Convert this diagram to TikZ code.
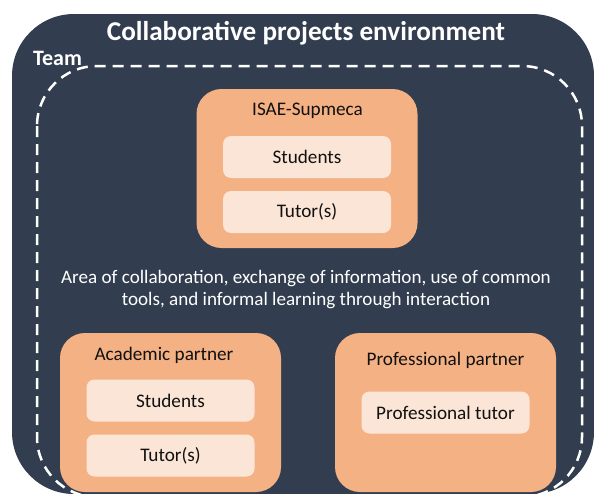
\documentclass[tikz,border=0pt]{standalone}
\usepackage{fontspec}
\setmainfont{Carlito}
\usetikzlibrary{positioning}
\definecolor{envdark}{HTML}{323E4F}
\definecolor{partpeach}{HTML}{F4B183}
\definecolor{rolelight}{HTML}{FBE5D6}
\definecolor{roletext}{HTML}{111111}

\begin{document}
\begin{tikzpicture}[x=1pt, y=-1pt,
    partner/.style={fill=partpeach, rounded corners=25pt, inner sep=0pt,
                    minimum width=221pt, minimum height=159pt},
    role/.style={fill=rolelight, rounded corners=8pt, text=roletext,
                 minimum width=168pt, minimum height=42pt,
                 font=\fontsize{19.2}{23}\selectfont},
    heading/.style={text=roletext, inner sep=0pt, font=\fontsize{19.2}{23}\selectfont},
]
    \useasboundingbox (0,0) rectangle (594,493);

    % environment and team
    \fill[envdark, rounded corners=62pt] (12,14) rectangle (594,494);
    \draw[white, line width=2.5pt, dash pattern=on 11pt off 7pt, rounded corners=60pt]
        (37,66) rectangle (582,497);
    \node[text=white, font=\fontsize{27.2}{31}\selectfont\bfseries] (envtitle) at (306,33)
        {Collaborative projects environment};
    \node[text=white, inner sep=0pt, font=\fontsize{22}{26}\selectfont\bfseries] (team) at (57.5,58) {Team};

    % school
    \node[partner] (isae) at (307,168.5) {};
    \node[heading] (isaetitle) at (307.5,111) {ISAE-Supmeca};
    \node[role] (isaestud) at (307,157) {Students};
    \node[role] (isaetut) at (307,212) {Tutor(s)};

    \node[text=white, align=center, font=\fontsize{19.1}{22}\selectfont] (area) at (306,290)
        {Area of collaboration, exchange of information, use of common\\
         tools, and informal learning through interaction};

    % partners
    \node[partner] (acad) at (170.5,412.5) {};
    \node[heading] (acadtitle) at (164,355) {Academic partner};
    \node[role] (acadstud) at (170.5,400.5) {Students};
    \node[role] (acadtut) at (170.5,455.5) {Tutor(s)};

    \node[partner] (prof) at (445.5,412.5) {};
    \node[heading] (proftitle) at (445.5,360) {Professional partner};
    \node[role] (proftut) at (445.5,412.5) {Professional tutor};
\end{tikzpicture}
\end{document}
